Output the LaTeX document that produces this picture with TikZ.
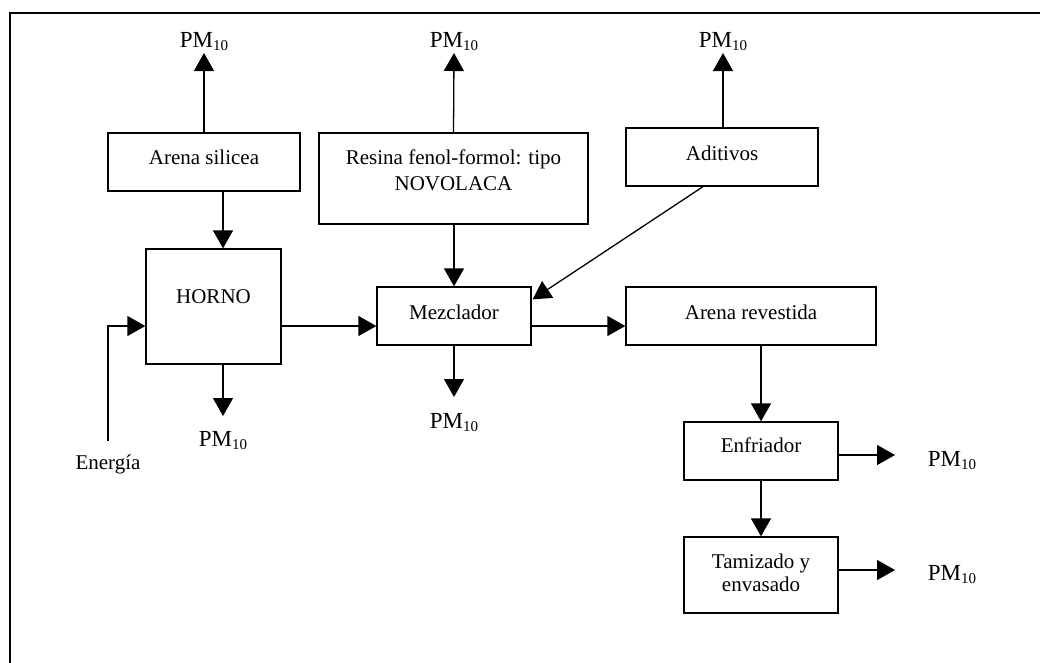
\documentclass[tikz,border=0pt]{standalone}
\usepackage{fontspec}
\setmainfont{Liberation Serif}
\usetikzlibrary{arrows.meta,calc}
\newcommand\pmten{\fontsize{23}{27}\selectfont PM\raisebox{-3pt}{\fontsize{15}{15}\selectfont 10}}
\begin{document}
\begin{tikzpicture}[x=1pt,y=-1pt,
  box/.style={draw,line width=1.3pt,inner sep=0pt},
  txt/.style={font=\fontsize{21}{26}\selectfont,align=center,inner sep=0pt},
  pm/.style={inner sep=0pt},
  arr/.style={line width=1.3pt,-{Triangle[length=18pt,width=20pt]}},
  frame/.style={line width=2pt}]
\useasboundingbox (0,0) rectangle (1040,662);
% frame
\draw[frame] (10,670) -- (10,13) -- (1050,13);
% boxes
\node[box,minimum width=192pt,minimum height=58pt] (as) at (204,162) {};
\node[txt] (ast) at (204,157) {Arena silicea};
\node[box,minimum width=269pt,minimum height=91pt] (res) at (453.5,178.5) {};
\node[txt] (rest) at (453.5,170) {Resina fenol-formol: tipo\\NOVOLACA};
\node[box,minimum width=192pt,minimum height=58pt] (ad) at (722,157) {};
\node[txt] (adt) at (722,153) {Aditivos};
\node[box,minimum width=135pt,minimum height=115pt] (horno) at (213.5,306.5) {};
\node[txt] (hornot) at (213.5,297) {HORNO};
\node[box,minimum width=154pt,minimum height=58pt] (mez) at (454,316) {};
\node[txt] (mezt) at (454,312) {Mezclador};
\node[box,minimum width=250pt,minimum height=58pt] (ar) at (751,316) {};
\node[txt] (art) at (751,312) {Arena revestida};
\node[box,minimum width=154pt,minimum height=58pt] (enf) at (761,451) {};
\node[txt] (enft) at (761,445) {Enfriador};
\node[box,minimum width=154pt,minimum height=76pt] (tam) at (761,575) {};
\node[txt,font=\fontsize{21}{23}\selectfont] (tamt) at (761,573) {Tamizado y\\envasado};
% labels
\node[pm] (pm1) at (204,42) {\pmten};
\node[pm] (pm2) at (454,42) {\pmten};
\node[pm] (pm3) at (723,42) {\pmten};
\node[pm] (pm4) at (223,441) {\pmten};
\node[pm] (pm5) at (454,423) {\pmten};
\node[pm] (pm6) at (952,461) {\pmten};
\node[pm] (pm7) at (952,575) {\pmten};
\node[txt] (en) at (108,464) {Energía};
% helper coordinates
\coordinate (en0) at (108,441);
\coordinate (t1) at (204,53);
\coordinate (t2) at (454,53);
\coordinate (t3) at (723,53);
\coordinate (t4) at (223,416);
\coordinate (t5) at (454,397);
\coordinate (t6) at (895,455);
\coordinate (t7) at (895,570);
% emissions
\draw[arr] (as.north) -- (t1);
\draw[arr] (res.north) -- (t2);
\draw[arr] (ad.north -| t3) -- (t3);
\draw[arr] (horno.south -| t4) -- (t4);
\draw[arr] (mez.south) -- (t5);
\draw[arr] (enf.east |- t6) -- (t6);
\draw[arr] (tam.east |- t7) -- (t7);
% flows
\draw[arr] (as.south -| t4) -- (horno.north -| t4);
\draw[arr] (en0) |- ($(horno.west)+(0,19.5)$);
\draw[arr] ($(horno.east)+(0,19.5)$) -- ($(mez.west)+(0,10)$);
\draw[arr] (res.south -| mez.north) -- (mez.north);
\draw[arr] ($(ad.south)+(-19,0)$) -- ($(mez.north east)+(1,13)$);
\draw[arr] ($(mez.east)+(0,10)$) -- ($(ar.west)+(0,10)$);
\draw[arr] (ar.south -| enf.north) -- (enf.north);
\draw[arr] (enf.south) -- (tam.north);
\end{tikzpicture}
\end{document}
